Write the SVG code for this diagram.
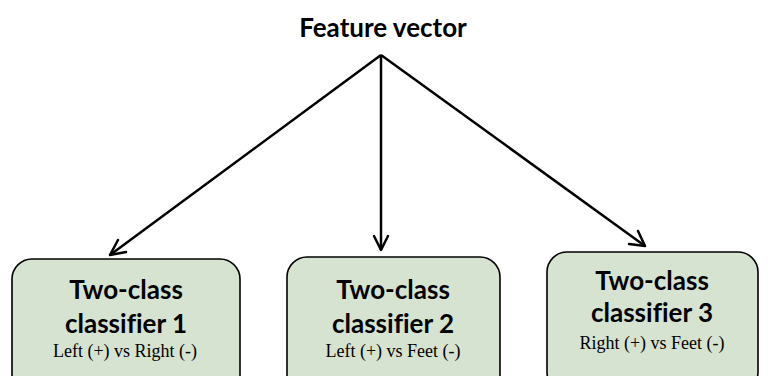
<svg xmlns="http://www.w3.org/2000/svg" width="768" height="376" viewBox="0 0 768 376">
  <style>
    .box { fill: #d6e3d1; stroke: #000; stroke-width: 1.6; }
    .head { font-family: Lato, "Open Sans", "Liberation Sans", sans-serif; font-weight: bold; font-size: 26px; text-anchor: middle; fill: #000; font-variant-ligatures: none; font-feature-settings: "liga" 0, "clig" 0; }
    .sub { font-family: "Liberation Serif", serif; font-size: 18px; text-anchor: middle; fill: #000; }
    .edge { stroke: #000; stroke-width: 2.5; fill: none; }
    .tip { stroke: #000; stroke-width: 2.5; fill: none; stroke-linecap: round; }
  </style>
  <rect width="768" height="376" fill="#fff"/>

  <g id="feature-vector">
    <text class="head" x="383" y="37" font-size="24">Feature vector</text>
  </g>

  <g id="connectors">
    <line class="edge" x1="381" y1="55" x2="110" y2="255"/>
    <path class="tip" d="M110,255 L126,252 M110,255 L118,240"/>
    <line class="edge" x1="381" y1="55" x2="381" y2="250"/>
    <path class="tip" d="M381,250 L374,236 M381,250 L388,236"/>
    <line class="edge" x1="381" y1="55" x2="645" y2="246"/>
    <path class="tip" d="M645,246 L638,231 M645,246 L629,244"/>
  </g>

  <g id="classifier-1">
    <rect class="box" x="12" y="259" width="228" height="140" rx="20"/>
    <text class="head" x="126" y="299">Two-class</text>
    <text class="head" x="126" y="333">classifier 1</text>
    <text class="sub" x="125" y="357">Left (+) vs Right (-)</text>
  </g>

  <g id="classifier-2">
    <rect class="box" x="287" y="257" width="213" height="140" rx="20"/>
    <text class="head" x="393" y="299">Two-class</text>
    <text class="head" x="393" y="333">classifier 2</text>
    <text class="sub" x="393" y="357">Left (+) vs Feet (-)</text>
  </g>

  <g id="classifier-3">
    <rect class="box" x="547" y="252" width="211" height="140" rx="20"/>
    <text class="head" x="652" y="290">Two-class</text>
    <text class="head" x="652" y="322">classifier 3</text>
    <text class="sub" x="652" y="349">Right (+) vs Feet (-)</text>
  </g>
</svg>
